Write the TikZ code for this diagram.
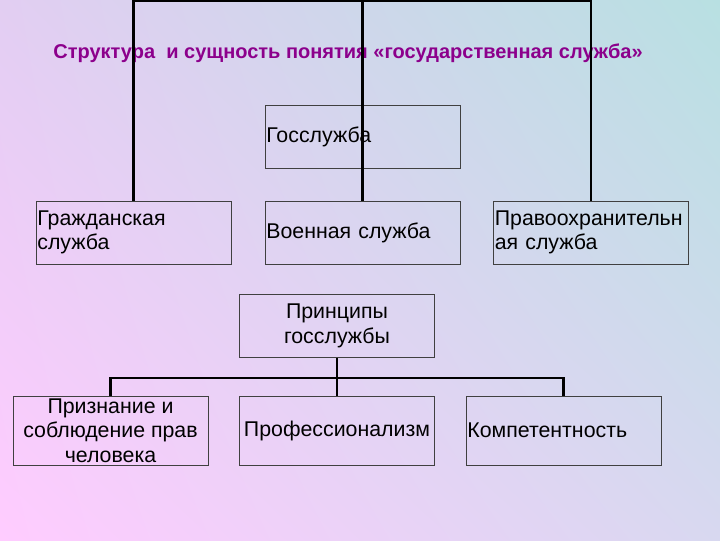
\documentclass[tikz,border=0pt]{standalone}
\usepackage{fontspec}
\setmainfont{Liberation Sans}
\usetikzlibrary{shadings}
\definecolor{titlecol}{RGB}{140,0,140}
\definecolor{bgul}{RGB}{226,206,242}
\definecolor{bgur}{RGB}{184,224,226}
\definecolor{bgll}{RGB}{255,204,255}
\definecolor{bglr}{RGB}{216,216,240}
\tikzset{every picture/.style={line width=0.75pt}}
\tikzset{
  box/.style={draw=black!75, line width=0.75pt, minimum width=146.25pt, minimum height=47.25pt,
    inner xsep=1pt, inner ysep=1pt, font=\fontsize{16}{18.4}\selectfont},
  lbox/.style={box, text width=144.25pt, align=left},
  cbox/.style={box, align=center},
  conn/.style={line width=1.6pt, draw=black}
}
\begin{document}
\begin{tikzpicture}[x=0.75pt,y=0.75pt,yscale=-1,xscale=1]
%Background
\shade [upper left=bgul, upper right=bgur, lower left=bgll, lower right=bglr] (0,0) rectangle (720,540);
\useasboundingbox (0,0) rectangle (720,540);
% Title
\node (title) at (348,53) [font=\bfseries\fontsize{15}{18}\selectfont, text=titlecol] {Структура\ \ и сущность понятия «государственная служба»};
%Boxes, upper part
\node (gos) at (362.5,136.5) [lbox] {Госслужба};
\node (grazh) at (133.5,232.5) [lbox] {Гражданская\\служба};
\node (voen) at (362.5,232.5) [lbox] {Военная служба};
\node (pravo) at (591,232.5) [lbox] {Правоохранительн\\ая служба};
%Boxes, lower part
\node (princ) at (337,326) [cbox] {Принципы\\госслужбы};
\node (priz) at (110.5,430.5) [cbox, minimum height=51.75pt] {Признание и\\соблюдение прав\\человека};
\node (prof) at (337,430.5) [cbox, minimum height=51.75pt] {Профессионализм};
\node (komp) at (563.5,430.5) [lbox, minimum height=51.75pt] {Компетентность};
%Connectors, upper part
\coordinate (top) at (362,1);
\draw [conn] (grazh.north) |- (top) -| (pravo.north);
\draw [conn] (voen.north) -- (voen.north |- top);
%Connectors, lower part
\coordinate (fork) at (337,378);
\draw [conn] (princ.south) -- (prof.north);
\draw [conn] (priz.north) |- (fork) -| (komp.north);
\end{tikzpicture}
\end{document}
